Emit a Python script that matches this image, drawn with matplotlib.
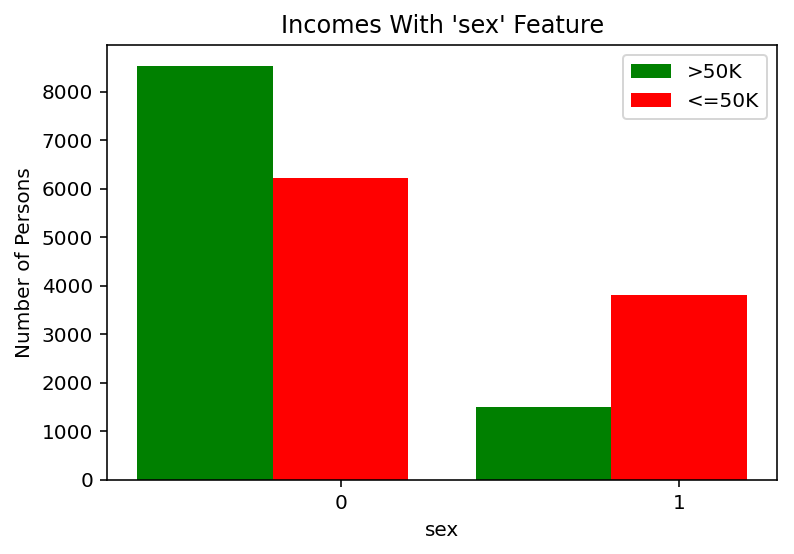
import numpy as np
import matplotlib
matplotlib.use("Agg")
import matplotlib.pyplot as plt

# values
categories = ["0", "1"]
high_income = [8530, 1500]   # >50K
low_income = [6210, 3820]    # <=50K

plt.rcParams["font.family"] = "DejaVu Sans"

# reference looks like a default-style figure rendered at 144 dpi
fig = plt.figure(figsize=(794 / 144, 554 / 144), dpi=144)
ax = fig.add_axes([0.1348, 0.1336, 0.844, 0.785])

x = np.arange(len(categories))
width = 0.4
ax.bar(x - width, high_income, width, color="green", label=">50K")
ax.bar(x, low_income, width, color="red", label="<=50K")

ax.set_xticks(x)
ax.set_xticklabels(categories)

ax.set_xlabel("sex")
ax.set_ylabel("Number of Persons")
ax.set_title("Incomes With 'sex' Feature")
ax.legend(loc="upper right")

fig.savefig("out.png", dpi=144)
